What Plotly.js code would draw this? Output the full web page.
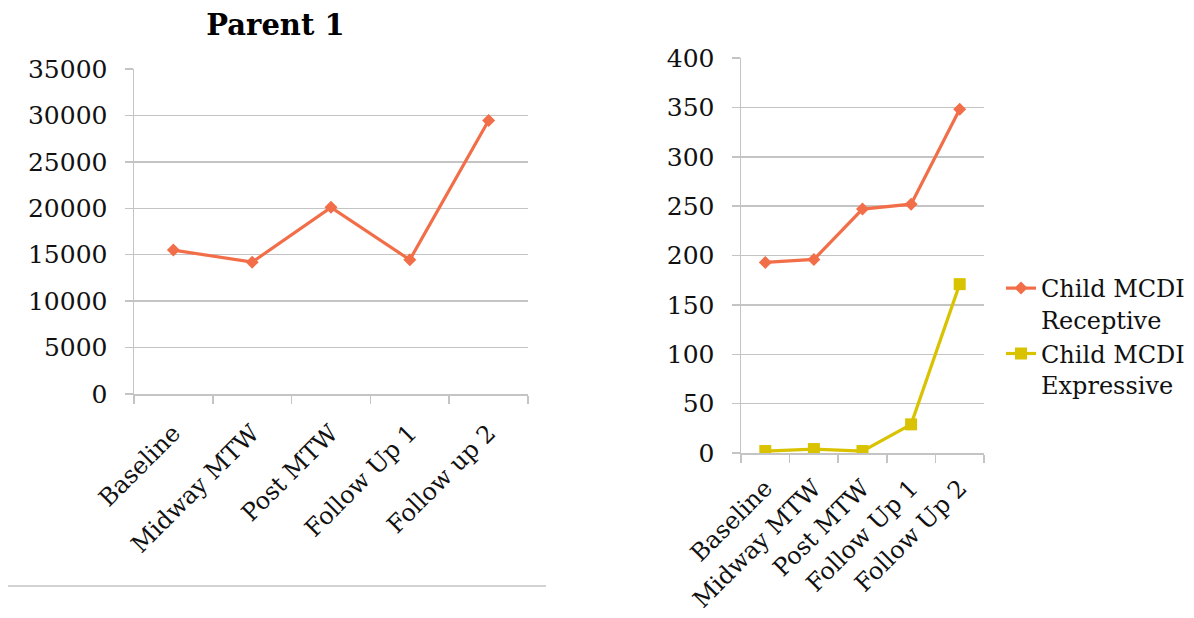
<!DOCTYPE html>
<html>
<head>
<meta charset="utf-8">
<script src="https://cdn.plot.ly/plotly-3.0.1.min.js"></script>
<style>html,body{margin:0;padding:0;background:#fff;}#chart{width:1194px;height:618px;}</style>
</head>
<body>
<div id="chart"></div>
<script>
const categoriesLeft = ['Baseline', 'Midway MTW', 'Post MTW', 'Follow Up 1', 'Follow up 2'];
const categoriesRight = ['Baseline', 'Midway MTW', 'Post MTW', 'Follow Up 1', 'Follow Up 2'];
const parent1 = [15500, 14200, 20100, 14450, 29450];
const receptive = [193, 196, 247, 252, 348];
const expressive = [2, 4, 2, 29, 171];
const leftTicks = [0, 5000, 10000, 15000, 20000, 25000, 30000, 35000];
const rightTicks = [0, 50, 100, 150, 200, 250, 300, 350, 400];

const ORANGE = '#F26E48';
const YELLOW = '#D9C300';
const GRID = '#C4C4C4';
const FONT = 'DejaVu Serif';

const traces = [
  {x: categoriesLeft, y: parent1, xaxis: 'x', yaxis: 'y', type: 'scatter', mode: 'lines+markers',
   name: 'Parent 1', showlegend: false,
   line: {color: ORANGE, width: 3.2}, marker: {symbol: 'diamond', size: 10, color: ORANGE}},
  {x: categoriesRight, y: receptive, xaxis: 'x2', yaxis: 'y2', type: 'scatter', mode: 'lines+markers',
   name: 'Child MCDI<br>Receptive',
   line: {color: ORANGE, width: 3.2}, marker: {symbol: 'diamond', size: 10, color: ORANGE}},
  {x: categoriesRight, y: expressive, xaxis: 'x2', yaxis: 'y2', type: 'scatter', mode: 'lines+markers',
   name: 'Child MCDI<br>Expressive',
   line: {color: YELLOW, width: 3.2}, marker: {symbol: 'square', size: 12, color: YELLOW}}
];

const xCommon = {
  type: 'category', range: [-0.5, 4.5], showgrid: false, zeroline: false,
  showline: true, linecolor: GRID, linewidth: 1.5,
  ticks: 'outside', tickson: 'boundaries', ticklen: 8, tickcolor: GRID, tickwidth: 1.5,
  tickangle: -45, tickfont: {family: FONT, size: 24, color: '#111'}, fixedrange: true
};
const yCommon = {
  showgrid: true, gridcolor: GRID, gridwidth: 1.5, zeroline: false,
  showline: true, linecolor: GRID, linewidth: 1.5,
  ticks: 'outside', ticklen: 8, tickcolor: GRID, tickwidth: 1.5,
  tickfont: {family: FONT, size: 25, color: '#111'}, ticklabelstandoff: 12, fixedrange: true
};

const layout = {
  width: 1194, height: 618,
  margin: {l: 0, r: 0, t: 0, b: 0},
  paper_bgcolor: '#fff', plot_bgcolor: '#fff',
  font: {family: FONT, color: '#111'},
  title: {text: '<b>Parent 1</b>', x: 0.2307, xref: 'paper', xanchor: 'center',
          y: 1 - 25 / 618, yref: 'paper', yanchor: 'middle',
          font: {family: FONT, size: 29, color: '#000'}},
  xaxis: Object.assign({}, xCommon, {domain: [134 / 1194, 528 / 1194], anchor: 'y', ticklabelstandoff: 14}),
  yaxis: Object.assign({}, yCommon, {domain: [224 / 618, 549 / 618], anchor: 'x',
          range: [0, 35000], tickmode: 'array', tickvals: leftTicks, ticktext: leftTicks.map(String)}),
  xaxis2: Object.assign({}, xCommon, {domain: [741 / 1194, 984 / 1194], anchor: 'y2', ticklabelstandoff: 10}),
  yaxis2: Object.assign({}, yCommon, {domain: [165 / 618, 560 / 618], anchor: 'x2',
          range: [0, 400], tickmode: 'array', tickvals: rightTicks, ticktext: rightTicks.map(String)}),
  legend: {x: 1001 / 1194, xanchor: 'left', y: (618 - 266) / 618, yanchor: 'top',
           valign: 'top', font: {family: FONT, size: 24, color: '#111'},
           bgcolor: 'rgba(0,0,0,0)', tracegroupgap: 0, itemwidth: 30},
  shapes: [{type: 'line', xref: 'paper', yref: 'paper', x0: 8 / 1194, x1: 546 / 1194,
            y0: (618 - 586) / 618, y1: (618 - 586) / 618, line: {color: GRID, width: 1.5}}]
};

Plotly.newPlot('chart', traces, layout, {displayModeBar: false, staticPlot: true});
</script>
</body>
</html>
